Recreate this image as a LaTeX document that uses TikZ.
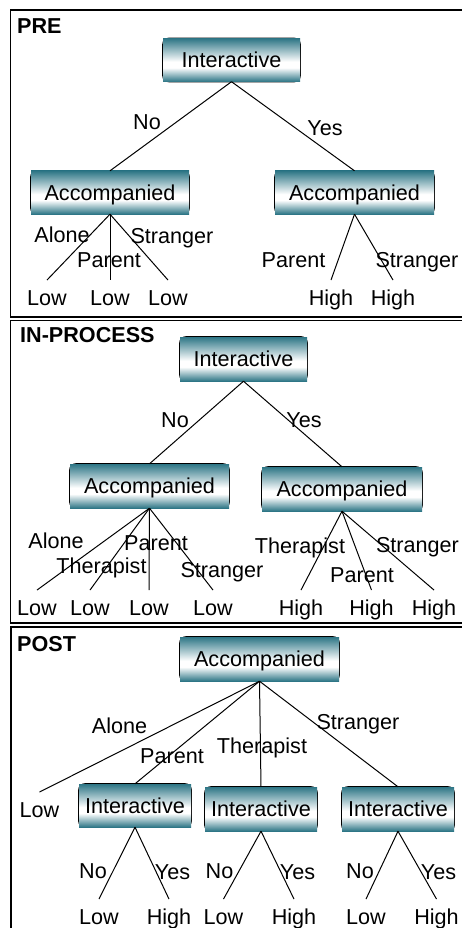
\documentclass[tikz,border=0pt]{standalone}
\usepackage{fontspec}
\setmainfont{Liberation Sans}
\definecolor{boxteal}{RGB}{46,118,134}
\pgfdeclareverticalshading{boxshade}{100bp}{color(0bp)=(boxteal); color(25bp)=(boxteal); color(41bp)=(white); color(48bp)=(white); color(75bp)=(boxteal); color(100bp)=(boxteal)}

\begin{document}
\begin{tikzpicture}[
    x=1pt, y=-1pt,
    font=\fontsize{21.6}{25}\selectfont,
    every node/.style={text height=15.5pt, text depth=0pt},
    boxline/.style={draw=black, line width=1.2pt, rounded corners=6pt},
    box/.style={shade, shading=boxshade, minimum height=43pt, inner sep=0pt,
        append after command={\pgfextra{\let\boxnode\tikzlastnode
            \draw[boxline] (\boxnode.south west) rectangle (\boxnode.north east);}}},
    branch/.style={draw=black, line width=1pt},
    leaf/.style={inner xsep=0pt, inner ysep=10pt},
    tag/.style={inner sep=0pt},
    title/.style={font=\fontsize{21.6}{25}\selectfont\bfseries, anchor=west, inner sep=0pt},
    panel/.style={draw=black, line width=1.8pt}
]
\useasboundingbox (0,0) rectangle (461,928);

% Panels
\draw[panel] (10.5,10) rectangle (470,317);
\draw[panel] (10.5,320.5) rectangle (470,623);
\draw[panel] (11,627) rectangle (470,940);

% PRE
\node[title] (preTitle) at (17,25.5) {PRE};
\node[box, minimum width=137pt] (preRoot) at (231.5,60) {Interactive};
\node[box, minimum width=158pt] (preNo) at (110,192.5) {Accompanied};
\node[box, minimum width=159pt] (preYes) at (354.5,192.5) {Accompanied};
\node[leaf] (preLow1) at (47,298) {Low};
\node[leaf] (preLow2) at (110,298) {Low};
\node[leaf] (preLow3) at (168,298) {Low};
\node[leaf] (preHigh1) at (331,298) {High};
\node[leaf] (preHigh2) at (393,298) {High};

\draw[branch] (preRoot.south) -- (preNo.north);
\draw[branch] (preRoot.south) -- (preYes.north);
\draw[branch] (preNo.south) -- (preLow1.north);
\draw[branch] (preNo.south) -- (preLow2.north);
\draw[branch] (preNo.south) -- (preLow3.north);
\draw[branch] (preYes.south) -- (preHigh1.north);
\draw[branch] (preYes.south) -- (preHigh2.north);

\node[tag] (preTagNo) at (147,121.5) {No};
\node[tag] (preTagYes) at (325,127.5) {Yes};
\node[tag] (preTagAlone) at (62,235) {Alone};
\node[tag] (preTagParent) at (109,260) {Parent};
\node[tag] (preTagStranger) at (172,235.5) {Stranger};
\node[tag] (preTagParentB) at (293.5,260) {Parent};
\node[tag] (preTagStrangerB) at (417,260) {Stranger};

% IN-PROCESS
\node[title] (inTitle) at (20,334.5) {IN-PROCESS};
\node[box, minimum width=127pt, minimum height=44pt] (inRoot) at (243.5,359) {Interactive};
\node[box, minimum width=159pt, minimum height=44pt] (inNo) at (149.5,486) {Accompanied};
\node[box, minimum width=160pt, minimum height=44pt] (inYes) at (342,489) {Accompanied};
\node[leaf] (inLow1) at (37,608) {Low};
\node[leaf] (inLow2) at (90,608) {Low};
\node[leaf] (inLow3) at (149,608) {Low};
\node[leaf] (inLow4) at (213,608) {Low};
\node[leaf] (inHigh1) at (301,608) {High};
\node[leaf] (inHigh2) at (371.5,608) {High};
\node[leaf] (inHigh3) at (434,608) {High};

\draw[branch] (inRoot.south) -- (inNo.north);
\draw[branch] (inRoot.south) -- (inYes.north);
\draw[branch] (inNo.south) -- (inLow1.north);
\draw[branch] (inNo.south) -- (inLow2.north);
\draw[branch] (inNo.south) -- (inLow3.north);
\draw[branch] (inNo.south) -- (inLow4.north);
\draw[branch] (inYes.south) -- (inHigh1.north);
\draw[branch] (inYes.south) -- (inHigh2.north);
\draw[branch] (inYes.south) -- (inHigh3.north);

\node[tag] (inTagNo) at (175,420) {No};
\node[tag] (inTagYes) at (304,420) {Yes};
\node[tag] (inTagAlone) at (56,541) {Alone};
\node[tag] (inTagTherapist) at (101.5,566) {Therapist};
\node[tag] (inTagParent) at (156,543) {Parent};
\node[tag] (inTagStranger) at (222,570) {Stranger};
\node[tag] (inTagTherapistB) at (300,546) {Therapist};
\node[tag] (inTagParentB) at (362,574.5) {Parent};
\node[tag] (inTagStrangerB) at (417.5,545) {Stranger};

% POST
\node[title] (postTitle) at (17,643.5) {POST};
\node[box, minimum width=159pt, minimum height=44pt] (postRoot) at (259.5,659) {Accompanied};
\node[leaf] (postLow) at (39.5,810) {Low};
\node[box, minimum width=112pt] (postParent) at (135,805.5) {Interactive};
\node[box, minimum width=112pt, minimum height=44pt] (postTherapist) at (261,809) {Interactive};
\node[box, minimum width=112pt, minimum height=44pt] (postStranger) at (398,809) {Interactive};
\node[leaf] (postLow1) at (99,917) {Low};
\node[leaf] (postHigh1) at (169,917) {High};
\node[leaf] (postLow2) at (223.5,917) {Low};
\node[leaf] (postHigh2) at (294,917) {High};
\node[leaf] (postLow3) at (366,917) {Low};
\node[leaf] (postHigh3) at (436.5,917) {High};

\draw[branch] (postRoot.south) -- (postLow.north);
\draw[branch] (postRoot.south) -- (postParent.north);
\draw[branch] (postRoot.south) -- (postTherapist.north);
\draw[branch] (postRoot.south) -- (postStranger.north);
\draw[branch] (postParent.south) -- (postLow1.north);
\draw[branch] (postParent.south) -- (postHigh1.north);
\draw[branch] (postTherapist.south) -- (postLow2.north);
\draw[branch] (postTherapist.south) -- (postHigh2.north);
\draw[branch] (postStranger.south) -- (postLow3.north);
\draw[branch] (postStranger.south) -- (postHigh3.north);

\node[tag] (postTagAlone) at (119.5,726) {Alone};
\node[tag] (postTagParent) at (172,756) {Parent};
\node[tag] (postTagTherapist) at (262,746) {Therapist};
\node[tag] (postTagStranger) at (358,722) {Stranger};
\node[tag] (postTagNo1) at (93,871) {No};
\node[tag] (postTagYes1) at (172.5,872) {Yes};
\node[tag] (postTagNo2) at (219.5,871) {No};
\node[tag] (postTagYes2) at (297.5,872) {Yes};
\node[tag] (postTagNo3) at (360,871) {No};
\node[tag] (postTagYes3) at (438.5,872) {Yes};

\end{tikzpicture}
\end{document}
